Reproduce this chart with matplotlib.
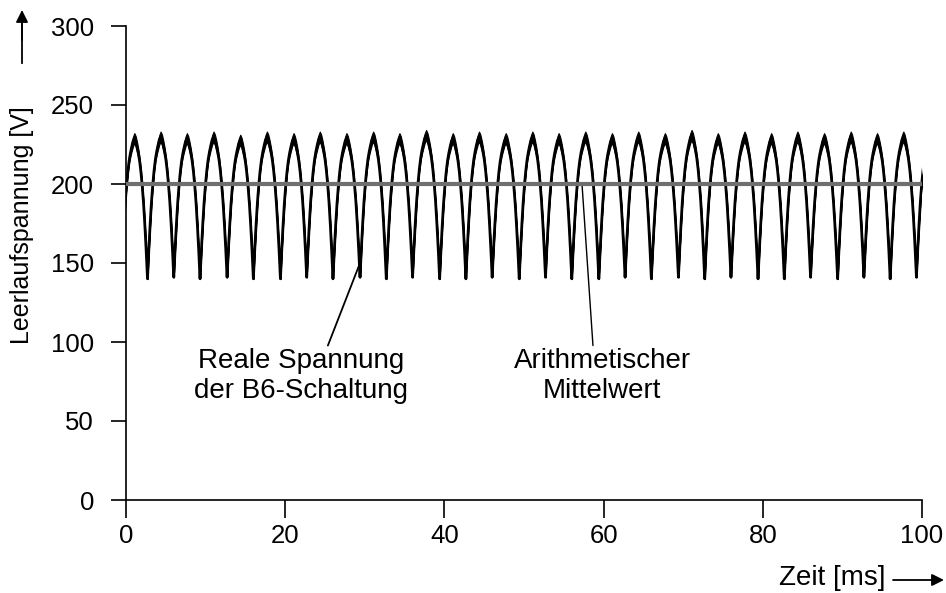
import numpy as np
import matplotlib.pyplot as plt

plt.rcParams['font.family'] = ['Liberation Sans', 'DejaVu Sans']

# Zeitpunkte der Minima [ms] und Minimalwerte [V]
t_min = [2.7, 6.0, 9.3, 12.7, 16.0, 19.4, 22.7, 26.0, 29.4, 32.7,
         36.0, 39.4, 42.7, 46.0, 49.4, 52.7, 56.0, 59.4, 62.7, 66.0,
         69.4, 72.7, 76.0, 79.4, 82.7, 86.0, 89.4, 92.7, 96.0, 99.3]
v_min = [140, 141, 140, 141, 140, 140, 141, 140, 141, 140,
         141, 140, 140, 141, 140, 141, 140, 140, 141, 140,
         141, 140, 141, 140, 140, 141, 140, 141, 140, 141]
# Spitzenwerte (einer vor dem ersten Minimum, einer nach dem letzten)
v_peak = [229, 230, 229, 230, 228, 230, 229, 230, 229, 230,
          229, 231, 229, 230, 229, 230, 229, 230, 229, 230,
          229, 231, 229, 230, 229, 230, 229, 230, 229, 230, 230]

# Form einer Periode (von Minimum zu Minimum)
hump_phase = [0, .05, .1, .15, .2, .25, .3, .35, .4, .45, .5,
              .55, .6, .65, .7, .75, .8, .85, .9, .95, 1]
hump_v = [140, 158, 174, 188, 199, 208, 215, 220, 224, 227.5, 229.5,
          227.5, 224, 220, 215, 208, 199, 188, 174, 158, 140]
# Breite des Rauschbandes [V]
hump_band = [0, 0, 0, .2, .5, .9, 1.4, 2.0, 2.6, 3.0, 3.2,
             3.3, 3.2, 2.7, 2.0, 1.4, .8, .4, .1, 0, 0]

mittelwert = 200

x_ticks = [0, 20, 40, 60, 80, 100]
y_ticks = [0, 50, 100, 150, 200, 250, 300]

# Kurve zusammensetzen
per = t_min[1] - t_min[0]
knots = [t_min[0] - per] + t_min + [t_min[-1] + per]
lows = [v_min[0]] + v_min + [v_min[-1]]
ph = np.array(hump_phase)
norm = (np.array(hump_v) - hump_v[0]) / (max(hump_v) - hump_v[0])
band = np.array(hump_band)
tt, vv, bb = [], [], []
for i in range(len(knots) - 1):
    a, b = lows[i], lows[i + 1]
    base = a * (1 - ph) + b * ph
    tt.append(knots[i] + ph * (knots[i + 1] - knots[i]))
    vv.append(base + norm * (v_peak[i] - base))
    bb.append(band)
tt = np.concatenate(tt)
vv = np.concatenate(vv)
bb = np.concatenate(bb)

fig = plt.figure(figsize=(9.46, 5.93), dpi=100)
ax = fig.add_axes([126/946, 93/593, 796/946, 474/593])

ax.fill_between(tt, vv - bb, vv + bb, color='black', lw=0.8, zorder=3)
ax.plot(tt, vv, color='black', lw=2.0, zorder=3)
ax.plot([0, 100], [mittelwert, mittelwert], color='#6f6f6f', lw=3, zorder=4,
        solid_capstyle='butt')

ax.set_xlim(0, 100)
ax.set_ylim(0, 300)
ax.set_xticks(x_ticks)
ax.set_yticks(y_ticks)
for s in ['top', 'right']:
    ax.spines[s].set_visible(False)
for s in ['left', 'bottom']:
    ax.spines[s].set_linewidth(1.2)
ax.tick_params(axis='y', length=11, width=1.2, pad=12, labelsize=18.5)
ax.tick_params(axis='x', length=13, width=1.2, pad=4, labelsize=18.5)

# Beschriftungen mit Zeigerlinien
ax.annotate('Reale Spannung\nder B6-Schaltung', xy=(29.4, 150), xytext=(22.0, 96),
            ha='center', va='top', fontsize=20, linespacing=1.2,
            arrowprops=dict(arrowstyle='-', color='black', lw=1.3,
                            shrinkA=0, shrinkB=0,
                            relpos=(0.62, 1.0)))
ax.annotate('Arithmetischer\nMittelwert', xy=(57.3, 199), xytext=(59.8, 96),
            ha='center', va='top', fontsize=20, linespacing=1.2,
            arrowprops=dict(arrowstyle='-', color='black', lw=1.0,
                            shrinkA=0, shrinkB=0, relpos=(0.45, 1.0)))

# Achsenbeschriftungen mit Pfeilen
fig.text(22/946, 1 - 225/593, 'Leerlaufspannung [V]', rotation=90,
         ha='center', va='center', fontsize=18)
fig.add_artist(plt.Line2D([22/946, 22/946], [1 - 63/593, 1 - 22/593],
                          color='black', lw=1.3))
ax.annotate('', xy=(22/946, 1 - 10/593), xytext=(22/946, 1 - 40/593),
            xycoords='figure fraction', textcoords='figure fraction',
            arrowprops=dict(arrowstyle='-|>', color='black', lw=1.3,
                            mutation_scale=18, shrinkA=0, shrinkB=0))
fig.text(885/946, 1 - 578/593, 'Zeit [ms]', ha='right', va='center',
         fontsize=20)
ax.annotate('', xy=(944/946, 1 - 580/593), xytext=(893/946, 1 - 580/593),
            xycoords='figure fraction', textcoords='figure fraction',
            arrowprops=dict(arrowstyle='-|>', color='black', lw=1.3,
                            mutation_scale=18, shrinkA=0, shrinkB=0))

fig.savefig('out.png', dpi=100)
